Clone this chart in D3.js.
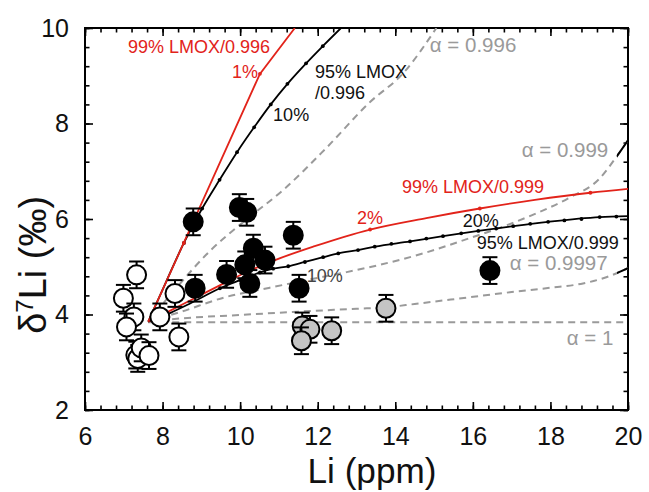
<!DOCTYPE html>
<html>
<head>
<meta charset="utf-8">
<script src="https://cdn.jsdelivr.net/npm/d3@7"></script>
<style>
  body { margin: 0; background: #fff; }
  text { font-family: Arial, "Liberation Sans", sans-serif; }
</style>
</head>
<body>
<div id="chart"></div>
<script>
// data ==========================
const openLi = [7.33, 6.99, 7.26, 7.07, 8.32, 7.93, 8.42, 7.31, 7.36, 7.45, 7.65];
const openD = [4.83, 4.34, 3.95, 3.74, 4.44, 3.95, 3.53, 3.15, 3.08, 3.30, 3.14];

const blackLi = [8.79, 8.84, 9.98, 10.17, 9.65, 10.12, 10.34, 10.64, 10.25, 11.37, 11.52, 16.44];
const blackD = [5.94, 4.55, 6.24, 6.14, 4.84, 5.04, 5.39, 5.14, 4.65, 5.66, 4.55, 4.92];

const greyLi = [11.60, 11.80, 11.58, 12.36, 13.76];
const greyD = [3.76, 3.69, 3.45, 3.66, 4.13];

const errD = 0.28;

// model curves [Li, d7Li]
const red996 = [[7.63, 3.85], [10.51, 9.04], [11.41, 10.0]];
const black996 = [[7.63, 3.85], [8.1, 4.7], [8.55, 5.5], [9.02, 6.22], [9.47, 6.82], [9.92, 7.4],
  [10.36, 7.92], [10.79, 8.4], [11.22, 8.83], [11.7, 9.26], [12.13, 9.62], [12.6, 10.0]];
const red999 = [[7.63, 3.85], [8.2, 4.08], [8.8, 4.33], [9.5, 4.62], [10.2, 4.9], [10.9, 5.14],
  [11.88, 5.42], [13.35, 5.78], [14.8, 6.02], [16.18, 6.22], [17.6, 6.4], [19.03, 6.55], [20, 6.63]];
const black999 = [[7.63, 3.85], [8.19, 4.03], [8.71, 4.23], [9.48, 4.55], [10.0, 4.72], [10.51, 4.88],
  [10.85, 4.96], [11.24, 5.01], [11.67, 5.1], [12.14, 5.2], [12.53, 5.28], [13.04, 5.35], [13.47, 5.42],
  [14.38, 5.53], [15.23, 5.64], [16.14, 5.75], [17.04, 5.85], [17.94, 5.94], [19.27, 6.04], [20, 6.06]];

const alpha996 = [[7.63, 3.85], [8.4, 4.6], [9.22, 5.33], [10.1, 5.95], [11.1, 6.6], [12.2, 7.47],
  [13.35, 8.45], [14.2, 9.05], [15.06, 10.0]];
const alpha999 = [[7.63, 3.85], [8.45, 4.05], [9.65, 4.37], [10.7, 4.55], [11.71, 4.72], [12.7, 4.88],
  [13.6, 5.04], [14.72, 5.28], [15.92, 5.6], [16.78, 5.84], [17.64, 6.12], [18.5, 6.45], [19.27, 6.85],
  [19.7, 7.3], [20, 7.65]];
const alpha9997 = [[7.63, 3.85], [8.5, 3.92], [10, 3.99], [11.5, 4.06], [13, 4.12], [13.76, 4.15],
  [14.5, 4.22], [15.9, 4.36], [17.0, 4.47], [18, 4.56], [18.84, 4.65], [19.44, 4.78], [20, 4.97]];
const alpha1 = [[7.63, 3.84], [20, 3.84]];

// marks along the mixing curves
const red996Marks = [[8.55, 5.5], [10.51, 9.04]];
const black996Marks = [[8.55, 5.5], [9.02, 6.22], [9.47, 6.82], [9.92, 7.4], [10.36, 7.92], [10.79, 8.4],
  [11.22, 8.83], [11.7, 9.26], [12.13, 9.62]];
const red999Marks = [[10.5, 5.0], [13.35, 5.78], [16.18, 6.22], [19.03, 6.55]];
const black999Marks = [[9.48, 4.55], [10.0, 4.72], [10.51, 4.88], [10.85, 4.96], [11.24, 5.01], [11.67, 5.1],
  [12.14, 5.2], [12.53, 5.28], [13.04, 5.35], [13.47, 5.42], [13.9, 5.48], [14.38, 5.53], [14.8, 5.59],
  [15.23, 5.64], [15.7, 5.7], [16.14, 5.75], [16.6, 5.8], [17.04, 5.85], [17.48, 5.9], [17.94, 5.94],
  [18.36, 5.97], [18.8, 6.0], [19.27, 6.04], [19.7, 6.05]];

const xTicks = [6, 8, 10, 12, 14, 16, 18, 20];
const yTicks = [2, 4, 6, 8, 10];

const red = "#e2231a";
const grey = "#9a9a9a";

const dimensions = {
  width: 649,
  height: 492,
  margin: { left: 85, right: 21, top: 28, bottom: 82 },
};
dimensions.ctrWidth = dimensions.width - dimensions.margin.left - dimensions.margin.right;
dimensions.ctrHeight = dimensions.height - dimensions.margin.top - dimensions.margin.bottom;

const svg = d3.select("#chart")
  .append("svg")
  .attr("width", dimensions.width)
  .attr("height", dimensions.height);

const ctr = svg.append("g")
  .attr("transform", `translate(${dimensions.margin.left},${dimensions.margin.top})`);

//Scales ==========
const xScale = d3.scaleLinear().domain([6, 20]).range([0, dimensions.ctrWidth]);
const yScale = d3.scaleLinear().domain([2, 10]).range([dimensions.ctrHeight, 0]);

const minorX = d3.range(6, 20.01, 0.4).map((v) => +v.toFixed(1));
const minorY = d3.range(2, 10.01, 0.4).map((v) => +v.toFixed(1));

ctr.append("clipPath").attr("id", "plot")
  .append("rect").attr("width", dimensions.ctrWidth).attr("height", dimensions.ctrHeight);
ctr.append("clipPath").attr("id", "edge")
  .append("rect").attr("x", dimensions.ctrWidth - 11).attr("width", 11).attr("height", dimensions.ctrHeight);

//Axes ==========
const axisGroups = [
  { axis: d3.axisBottom, tr: `translate(0,${dimensions.ctrHeight})`, scale: xScale, major: xTicks, minor: minorX, labels: true },
  { axis: d3.axisTop, tr: "translate(0,0)", scale: xScale, major: xTicks, minor: minorX, labels: false },
  { axis: d3.axisLeft, tr: "translate(0,0)", scale: yScale, major: yTicks, minor: minorY, labels: true },
  { axis: d3.axisRight, tr: `translate(${dimensions.ctrWidth},0)`, scale: yScale, major: yTicks, minor: minorY, labels: false },
];

axisGroups.forEach((a) => {
  const g = ctr.append("g").attr("transform", a.tr);
  g.call(a.axis(a.scale).tickValues(a.minor).tickSize(-4.5).tickFormat(""));
  const gm = ctr.append("g").attr("transform", a.tr);
  gm.call(a.axis(a.scale).tickValues(a.major).tickSize(-8).tickPadding(a.axis === d3.axisBottom ? 17 : 16)
    .tickFormat(a.labels ? d3.format("d") : ""));
  [g, gm].forEach((s) => {
    s.select(".domain").remove();
    s.selectAll("line").attr("stroke", "#000").attr("stroke-width", 1.6);
    s.selectAll("text").attr("fill", "#111").style("font-size", "25px")
      .style("font-family", "Arial, 'Liberation Sans', sans-serif");
  });
});

ctr.append("rect")
  .attr("width", dimensions.ctrWidth)
  .attr("height", dimensions.ctrHeight)
  .attr("fill", "none")
  .attr("stroke", "#000")
  .attr("stroke-width", 2);

// axis titles
const xLab = svg.append("text")
  .attr("x", dimensions.margin.left + xScale(13.4))
  .attr("y", 483)
  .attr("text-anchor", "middle")
  .attr("fill", "#111")
  .style("font-size", "34px")
  .text("Li (ppm)");

const yLab = svg.append("text")
  .attr("transform", `translate(46,${dimensions.margin.top + yScale(5.04)}) rotate(-90)`)
  .attr("text-anchor", "middle")
  .attr("fill", "#111")
  .style("font-size", "30px");
yLab.append("tspan").text("δ");
yLab.append("tspan").attr("class", "sup").attr("baseline-shift", "super").style("font-size", "19px").text("7");
yLab.append("tspan").text("Li (‰)");

// fit titles to the widths seen in the figure
function fitWidth(sel, target, base) {
  const w = sel.node().getComputedTextLength();
  if (w > 0) {
    const k = target / w;
    sel.style("font-size", base * k + "px");
    sel.selectAll(".sup").style("font-size", 19 * k + "px");
  }
}
fitWidth(xLab, 129, 34);
fitWidth(yLab, 138, 30);

//Curves ==========
const line = d3.line()
  .x((d) => xScale(d[0]))
  .y((d) => yScale(d[1]))
  .curve(d3.curveMonotoneX);
const straight = d3.line()
  .x((d) => xScale(d[0]))
  .y((d) => yScale(d[1]));

const curves = ctr.append("g").attr("clip-path", "url(#plot)");

[alpha1, alpha9997, alpha999, alpha996].forEach((c) => {
  curves.append("path")
    .attr("d", line(c))
    .attr("fill", "none")
    .attr("stroke", grey)
    .attr("stroke-width", 2)
    .attr("stroke-dasharray", "7,5");
});

// the dashed curves turn black where they hit the right frame
const edge = ctr.append("g").attr("clip-path", "url(#edge)");
[alpha9997, alpha999].forEach((c) => {
  edge.append("path")
    .attr("d", line(c))
    .attr("fill", "none")
    .attr("stroke", "#000")
    .attr("stroke-width", 2);
});

const solids = [
  { data: black999, color: "#000", marks: black999Marks, gen: line },
  { data: red999, color: red, marks: red999Marks, gen: line },
  { data: black996, color: "#000", marks: black996Marks, gen: line },
  { data: red996, color: red, marks: red996Marks, gen: straight },
];

solids.forEach((s) => {
  curves.append("path")
    .attr("d", s.gen(s.data))
    .attr("fill", "none")
    .attr("stroke", s.color)
    .attr("stroke-width", 1.8);
  curves.selectAll(null)
    .data(s.marks)
    .join("circle")
    .attr("cx", (d) => xScale(d[0]))
    .attr("cy", (d) => yScale(d[1]))
    .attr("r", 1.9)
    .attr("fill", s.color);
});

//Points ==========
const groups = [
  { li: openLi, d: openD, fill: "#fff" },
  { li: greyLi, d: greyD, fill: "#c4c4c4" },
  { li: blackLi, d: blackD, fill: "#000" },
];

groups.forEach((grp) => {
  const pts = grp.li.map((v, i) => ({ li: v, d: grp.d[i] }));
  const g = ctr.append("g");
  const node = g.selectAll("g")
    .data(pts)
    .join("g")
    .attr("transform", (p) => `translate(${xScale(p.li)},0)`);
  node.append("line")
    .attr("y1", (p) => yScale(p.d - errD))
    .attr("y2", (p) => yScale(p.d + errD))
    .attr("stroke", "#000").attr("stroke-width", 2);
  [-1, 1].forEach((sgn) => {
    node.append("line")
      .attr("x1", -7.5).attr("x2", 7.5)
      .attr("y1", (p) => yScale(p.d + sgn * errD))
      .attr("y2", (p) => yScale(p.d + sgn * errD))
      .attr("stroke", "#000").attr("stroke-width", 2);
  });
  node.append("circle")
    .attr("cy", (p) => yScale(p.d))
    .attr("r", 9.5)
    .attr("fill", grp.fill)
    .attr("stroke", "#000")
    .attr("stroke-width", 2);
});

//Labels ==========
const labels = [
  { t: "99% LMOX/0.996", li: 7.11, d: 9.6, c: red, s: 18 },
  { t: "1%", li: 9.79, d: 9.08, c: red, s: 18 },
  { t: "95% LMOX", li: 11.93, d: 9.08, c: "#111", s: 18 },
  { t: "/0.996", li: 11.93, d: 8.64, c: "#111", s: 18 },
  { t: "10%", li: 10.85, d: 8.18, c: "#111", s: 18 },
  { t: "α = 0.996", li: 14.89, d: 9.64, c: grey, s: 20.5 },
  { t: "α = 0.999", li: 17.26, d: 7.45, c: grey, s: 20.5 },
  { t: "99% LMOX/0.999", li: 14.17, d: 6.67, c: red, s: 18 },
  { t: "2%", li: 13.01, d: 6.02, c: red, s: 18 },
  { t: "20%", li: 15.74, d: 5.96, c: "#111", s: 18 },
  { t: "95% LMOX/0.999", li: 16.1, d: 5.5, c: "#111", s: 18 },
  { t: "α = 0.9997", li: 16.95, d: 5.08, c: grey, s: 20.5 },
  { t: "10%", li: 11.72, d: 4.81, c: "#444", s: 18 },
  { t: "α = 1", li: 18.42, d: 3.51, c: grey, s: 20.5 },
];

ctr.append("g")
  .selectAll("text")
  .data(labels)
  .join("text")
  .attr("x", (l) => xScale(l.li))
  .attr("y", (l) => yScale(l.d))
  .attr("dy", "0.35em")
  .attr("fill", (l) => l.c)
  .style("font-size", (l) => l.s + "px")
  .text((l) => l.t);
</script>
</body>
</html>
